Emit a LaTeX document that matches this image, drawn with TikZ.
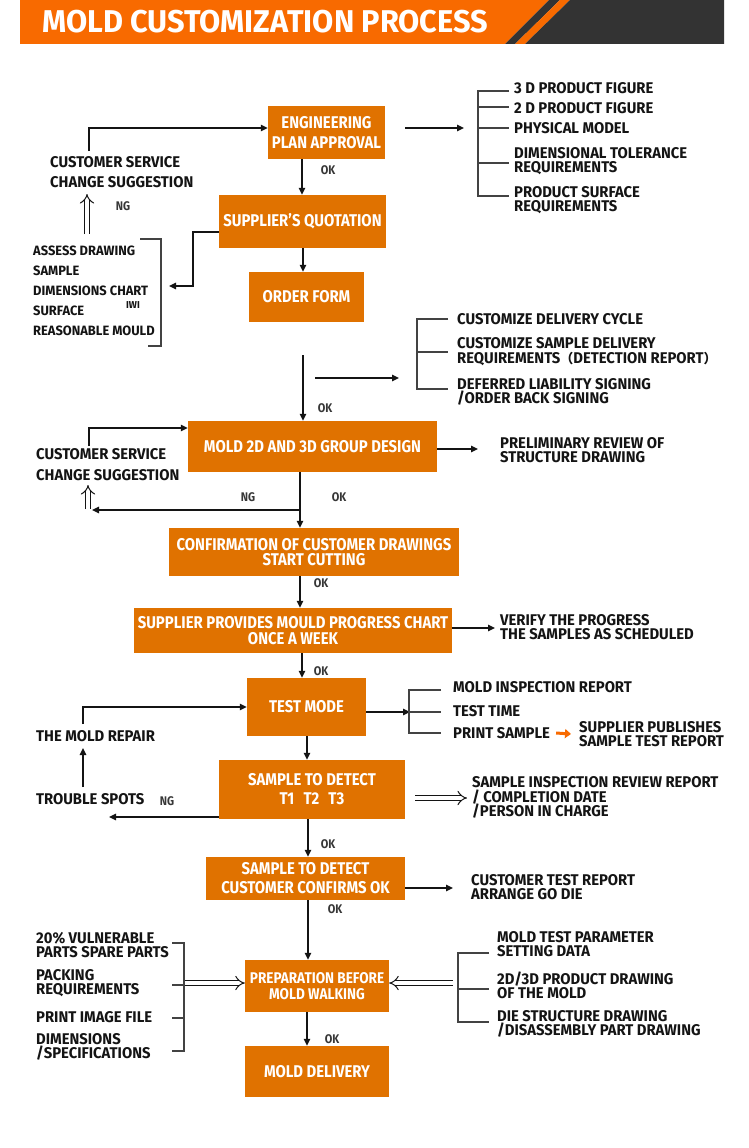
\documentclass[tikz,border=0pt]{standalone}
\usepackage{fontspec}
\setmainfont{Fira Sans}[FakeStretch=0.955]
\newfontfamily\hfont{Fira Sans}[FakeStretch=0.975]
\newfontfamily\bxfont{Fira Sans}[FakeStretch=0.875]
\newfontfamily\cjk{Noto Sans CJK SC}
\usetikzlibrary{arrows.meta}
\definecolor{boxor}{RGB}{224,114,0}
\definecolor{heador}{RGB}{248,106,0}
\definecolor{headdk}{RGB}{51,51,51}
\definecolor{ink}{RGB}{20,20,20}
\begin{document}
\begin{tikzpicture}[x=1pt,y=-1pt,
 box/.style={fill=boxor, text=white, font=\bxfont\fontsize{17}{#1}\selectfont\bfseries, align=center, inner sep=0pt},
 box/.default=19,
 txt/.style={anchor=west, align=left, inner sep=0pt, text=ink, font=\fontsize{15.5}{#1}\selectfont\bfseries},
 txt/.default=14,
 small/.style={inner sep=0pt, text=ink!85, font=\bxfont\fontsize{12.5}{14}\selectfont\bfseries},
 arr/.style={draw=ink, line width=1.4pt, -{Triangle[length=7pt,width=6.5pt]}},
 ln/.style={draw=ink!80, line width=1.3pt},
 hol/.style={draw=ink, double=white, double distance=4pt, line width=1pt, -{Implies[scale=1.15]}},
 orarr/.style={draw=heador, line width=3pt, -{Triangle[length=6pt,width=9pt]}},
]
\useasboundingbox (0,0) rectangle (748,1148);
\fill[white] (0,0) rectangle (748,1148);

% header
\fill[heador] (20,0) -- (549,0) -- (505,44) -- (20,44) -- cycle;
\fill[headdk] (549,0) -- (560,0) -- (515,44) -- (505,44) -- cycle;
\fill[heador] (560,0) -- (570,0) -- (525,44) -- (515,44) -- cycle;
\fill[headdk] (570,0) -- (724,0) -- (724,44) -- (525,44) -- cycle;
\node[anchor=west, text=white, inner sep=0pt, font=\hfont\fontsize{31.5}{32}\selectfont\bfseries] (title) at (42,22) {MOLD CUSTOMIZATION PROCESS};

% boxes
\node[box=20, minimum width=117pt, minimum height=53pt] (eng) at (326.5,132.5) {ENGINEERING\\PLAN APPROVAL};
\node[box, minimum width=167pt, minimum height=53pt] (quote) at (302.5,221.5) {SUPPLIER’S QUOTATION};
\node[box, minimum width=115pt, minimum height=50pt] (order) at (306.5,297) {ORDER FORM};
\node[box, minimum width=249pt, minimum height=51pt] (mold) at (312.5,446.5) {MOLD 2D AND 3D GROUP DESIGN};
\node[box=15.5, minimum width=290pt, minimum height=48pt] (confirm) at (314,552) {CONFIRMATION OF CUSTOMER DRAWINGS\\START CUTTING};
\node[box=15.5, minimum width=318pt, minimum height=45pt] (prog) at (293,630.5) {SUPPLIER PROVIDES MOULD PROGRESS CHART\\ONCE A WEEK};
\node[box, minimum width=119pt, minimum height=58pt] (test) at (306.5,707) {TEST MODE};
\node[box, minimum width=186pt, minimum height=59pt] (sample1) at (312,789.5) {SAMPLE TO DETECT\\T1\,\, T2\,\, T3};
\node[box, minimum width=199pt, minimum height=43pt] (sample2) at (305.5,878.5) {SAMPLE TO DETECT\\CUSTOMER CONFIRMS OK};
\node[fill=boxor, text=white, font=\bxfont\fontsize{15.5}{16}\selectfont\bfseries, align=center, inner sep=0pt, minimum width=144pt, minimum height=52pt] (prep) at (317,986) {PREPARATION BEFORE\\MOLD WALKING};
\node[box, minimum width=144pt, minimum height=51pt] (deliv) at (317,1071.5) {MOLD DELIVERY};

% texts
\node[txt=20] (cs1) at (50,172) {CUSTOMER SERVICE\\CHANGE SUGGESTION};
\node[small] (ng1) at (123,206) {NG};
\node[small] (ok1) at (328,170) {OK};
\node[anchor=west, align=left, inner sep=0pt, text=ink, font=\fontsize{13.5}{20}\selectfont\bfseries] (assess) at (33,291) {ASSESS DRAWING\\SAMPLE\\DIMENSIONS CHART\\SURFACE\\REASONABLE MOULD};
\node[inner sep=0pt, text=ink, font=\fontsize{10}{10}\selectfont\bfseries] (art) at (133,305) {IWI};
\node[txt] (r1a) at (514,88) {3 D PRODUCT FIGURE};
\node[txt] (r1b) at (514,108) {2 D PRODUCT FIGURE};
\node[txt] (r1c) at (514,128) {PHYSICAL MODEL};
\node[txt] (r1d) at (514,161) {DIMENSIONAL TOLERANCE\\REQUIREMENTS};
\node[txt] (r1e) at (514,200) {PRODUCT SURFACE\\REQUIREMENTS};
\node[txt] (r2a) at (457,319) {CUSTOMIZE DELIVERY CYCLE};
\node[txt=14.5] (r2b) at (457,351.5) {CUSTOMIZE SAMPLE DELIVERY\\REQUIREMENTS{\cjk\fontsize{13}{13}\selectfont （}DETECTION REPORT{\cjk\fontsize{13}{13}\selectfont ）}};
\node[txt] (r2c) at (457,391.5) {DEFERRED LIABILITY SIGNING\\/ORDER BACK SIGNING};
\node[small] (ok2) at (325,408) {OK};
\node[txt=21] (cs2) at (36,464.5) {CUSTOMER SERVICE\\CHANGE SUGGESTION};
\node[small] (ng2) at (248,497) {NG};
\node[small] (ok3) at (339,497) {OK};
\node[txt] (prel) at (500,450) {PRELIMINARY REVIEW OF\\STRUCTURE DRAWING};
\node[small] (ok4) at (321,583) {OK};
\node[txt] (ver) at (500,627.5) {VERIFY THE PROGRESS\\THE SAMPLES AS SCHEDULED};
\node[small] (ok5) at (321,671) {OK};
\node[txt] (rep) at (36,736) {THE MOLD REPAIR};
\node[txt] (trb) at (36,799) {TROUBLE SPOTS};
\node[small] (ng3) at (167,801) {NG};
\node[txt] (tl1) at (453,687) {MOLD INSPECTION REPORT};
\node[txt] (tl2) at (453,711) {TEST TIME};
\node[txt] (ps) at (453,733) {PRINT SAMPLE};
\node[txt] (sp) at (579,734) {SUPPLIER PUBLISHES\\SAMPLE TEST REPORT};
\node[txt=14.5] (sir) at (472,797.5) {SAMPLE INSPECTION REVIEW REPORT\\/ COMPLETION DATE\\/PERSON IN CHARGE};
\node[small] (ok6) at (328,844) {OK};
\node[txt] (ctr) at (471,887) {CUSTOMER TEST REPORT\\ARRANGE GO DIE};
\node[small] (ok7) at (335,909) {OK};
\node[txt] (lp1) at (36,945.5) {20\% VULNERABLE\\PARTS SPARE PARTS};
\node[txt] (lp2) at (36,983.5) {PACKING\\REQUIREMENTS};
\node[txt] (lp3) at (36,1017) {PRINT IMAGE FILE};
\node[txt] (lp4) at (36,1046.5) {DIMENSIONS\\/SPECIFICATIONS};
\node[txt] (rp1) at (497,944.5) {MOLD TEST PARAMETER\\SETTING DATA};
\node[txt] (rp2) at (497,985.5) {2D/3D PRODUCT DRAWING\\OF THE MOLD};
\node[txt] (rp3) at (497,1023.5) {DIE STRUCTURE DRAWING\\/DISASSEMBLY PART DRAWING};
\node[small] (ok8) at (332,1039) {OK};

% coordinates
\coordinate (sx1) at (302,0);
\coordinate (sx2) at (303,0);
\coordinate (sx3) at (300,0);
\coordinate (sx4) at (302,0);
\coordinate (sx5) at (307,0);
\coordinate (sx6) at (308,0);
\coordinate (a1) at (89,151);
\coordinate (h1a) at (87,234);
\coordinate (h1b) at (87,194);
\coordinate (e1) at (405,128);
\coordinate (e2) at (464,128);
\coordinate (q1) at (193,286);
\coordinate (q2) at (169,286);
\coordinate (o1) at (303,355);
\coordinate (o2) at (315,378);
\coordinate (o3) at (399,378);
\coordinate (m1) at (89,446);
\coordinate (h2a) at (88,509);
\coordinate (h2b) at (88,485);
\coordinate (m2) at (300,510);
\coordinate (m3) at (92,510);
\coordinate (m4) at (478,449);
\coordinate (p1) at (495,628);
\coordinate (t1) at (83,724);
\coordinate (t2a) at (83,787);
\coordinate (t2b) at (83,748);
\coordinate (t3) at (109,817);
\coordinate (t4) at (410,712);
\coordinate (h3a) at (415,798);
\coordinate (h3b) at (467,798);
\coordinate (c1) at (453,888);
\coordinate (pl) at (184,983);
\coordinate (pr) at (453,983);

% connectors
\draw[arr] (a1) |- ([yshift=4.5pt]eng.west);
\draw[hol] (h1a) -- (h1b);
\draw[arr] (eng.south -| sx1) -- (quote.north -| sx1);
\draw[arr] (e1) -- (e2);
\draw[arr] ([yshift=-10.5pt]quote.west) -| (q1) -- (q2);
\draw[arr] (quote.south -| sx2) -- (order.north -| sx2);
\draw[arr] (o1) -- (mold.north -| o1);
\draw[arr] (o2) -- (o3);
\draw[arr] (m1) |- ([yshift=18.5pt]mold.west);
\draw[hol] (h2a) -- (h2b);
\draw[arr] (m2) -- (m3);
\draw[arr] (mold.south -| sx3) -- (confirm.north -| sx3);
\draw[arr] ([yshift=-2.5pt]mold.east) -- (m4);
\draw[arr] (confirm.south -| sx3) -- (prog.north -| sx3);
\draw[arr] ([yshift=2.5pt]prog.east) -- (p1);
\draw[arr] (prog.south -| sx4) -- (test.north -| sx4);
\draw[arr] (t1) |- (test.west);
\draw[arr] (t2a) -- (t2b);
\draw[arr] ([yshift=-27.5pt]sample1.west) -- (t3);
\draw[arr] ([yshift=-5pt]test.east) -- (t4);
\draw[orarr] ([xshift=6pt]ps.east) -- ([xshift=-8pt]sp.west);
\draw[arr] (test.south -| sx5) -- (sample1.north -| sx5);
\draw[hol] (h3a) -- (h3b);
\draw[arr] (sample1.south -| sx6) -- (sample2.north -| sx6);
\draw[arr] ([yshift=-9.5pt]sample2.east) -- (c1);
\draw[arr] (sample2.south -| sx6) -- (prep.north -| sx6);
\draw[arr] (prep.south -| sx5) -- (deliv.north -| sx5);
\draw[hol] (pl) -- (prep.west |- pl);
\draw[hol] (pr) -- (prep.east |- pr);

% brackets
\draw[ln] (140,239) -- (161,239) -- (161,346) -- (148,346);
\draw[ln] (509,91) -- (478,91) -- (478,196) -- (509,196);
\draw[ln] (478,107) -- (509,107);
\draw[ln] (478,128) -- (509,128);
\draw[ln] (478,163) -- (509,163);
\draw[ln] (448,319) -- (417,319) -- (417,389) -- (448,389);
\draw[ln] (417,352) -- (448,352);
\draw[ln] (441,690) -- (409,690) -- (409,733) -- (441,733);
\draw[ln] (409,712) -- (441,712);
\draw[ln] (172,943) -- (184,943) -- (184,1051) -- (172,1051);
\draw[ln] (172,985) -- (184,985);
\draw[ln] (172,1018) -- (184,1018);
\draw[ln] (489,953) -- (458,953) -- (458,1022) -- (489,1022);
\draw[ln] (458,989) -- (489,989);
\end{tikzpicture}
\end{document}
